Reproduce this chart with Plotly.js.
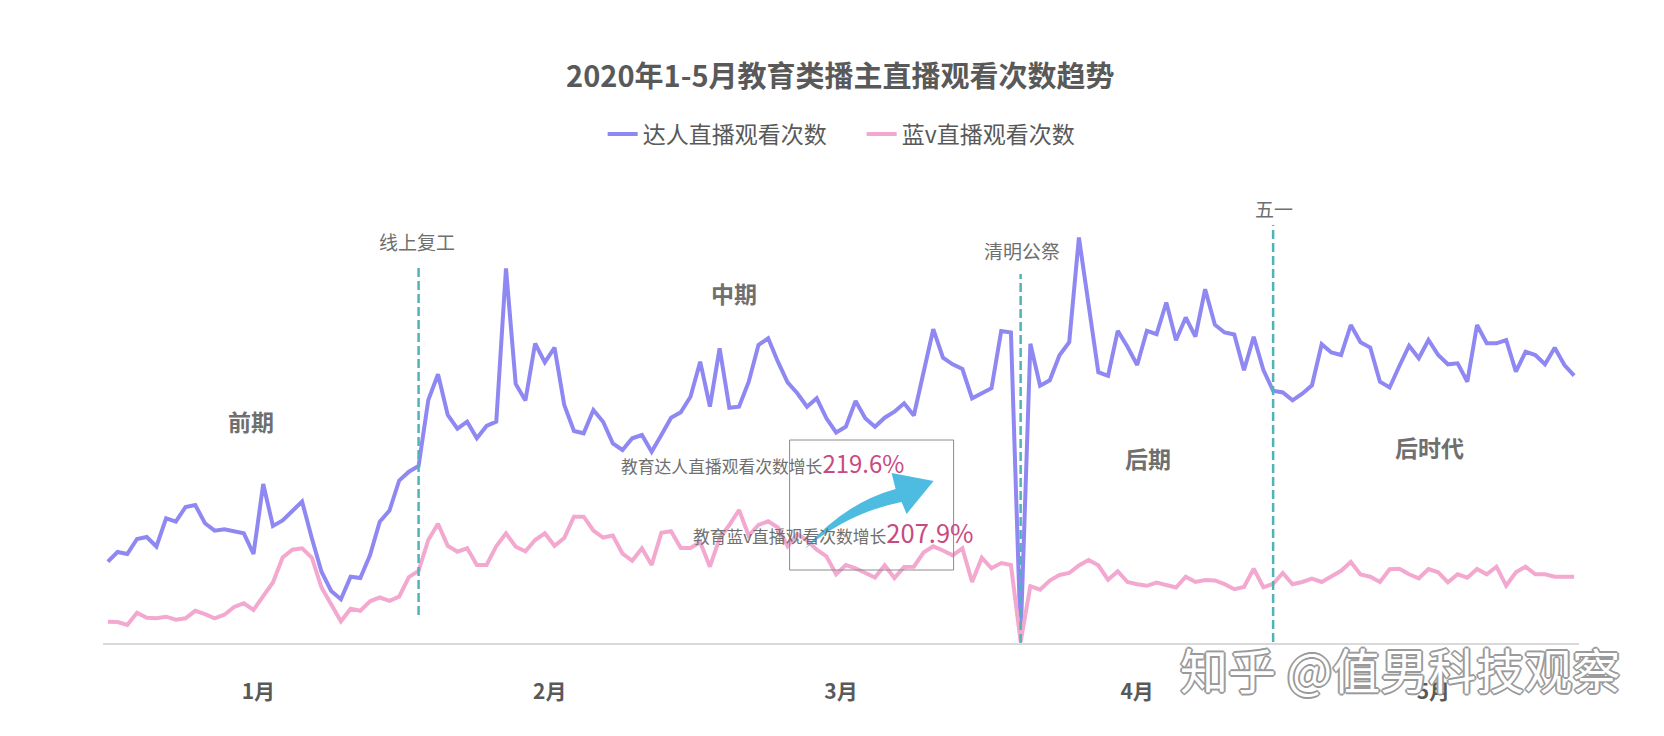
<!DOCTYPE html>
<html>
<head>
<meta charset="utf-8">
<script src="https://cdn.plot.ly/plotly-3.0.1.min.js"></script>
<style>html,body{margin:0;padding:0;background:#fff;}#chart{width:1664px;height:736px;}</style>
</head>
<body>
<div id="chart"></div>
<script>
// ---- data (arbitrary units, daily 2020-01-01 .. 2020-05-31) ----
const startYear = 2020, startMonth = 0, nDays = 152;
const seriesNames = ['达人直播观看次数', '蓝v直播观看次数'];
const darenViews = [
  81.3, 91, 89, 104, 106, 96.5, 124.7, 121.3, 136, 138,
  119.7, 112.3, 113.7, 112, 109.7, 89, 159, 117, 122.5, 132,
  141.5, 105, 71.3, 52, 43.7, 66.3, 65, 88, 121.3, 132.5,
  162.5, 171.3, 177, 243, 268.8, 228, 214.3, 221.3, 204.7, 217,
  221.3, 374.7, 259, 242.5, 299.5, 280.7, 295.3, 238, 212, 209.7,
  233, 221.3, 199.7, 193, 204.7, 208, 191.3, 208, 225.3, 230.7,
  246.3, 281.3, 236.3, 294.7, 235.3, 236.3, 261.3, 298, 304.7, 281.3,
  260.7, 249.7, 236.3, 244.7, 224.7, 210.5, 216.3, 242, 224.7, 216.3,
  225.3, 231.3, 239.7, 227.5, 271, 313.8, 285.3, 278.7, 274, 244.7,
  249.7, 254.7, 312, 310.5, 6, 299.3, 257.2, 262.7, 287.7, 300.8,
  405.5, 338, 270.8, 267.2, 312.2, 296.3, 278, 312.2, 308.8, 340.5,
  302.7, 325.5, 306.3, 353.8, 318.3, 310.5, 308.5, 272.7, 306.3, 273,
  252.2, 250.5, 242.7, 249.3, 257.7, 298.8, 290.5, 288, 318, 300.8,
  295.5, 261.3, 255.5, 277, 297.3, 284.7, 303, 288, 278.7, 279.7,
  261.3, 318, 299.7, 299.7, 303, 271.3, 291.3, 288, 278.7, 295.3,
  278, 267.3
];
const lanvViews = [
  21.3, 21, 18, 30.3, 25.2, 24.7, 26.3, 23.3, 24.7, 32.2,
  28.8, 24.7, 28.3, 36, 39.7, 33, 46.8, 60.5, 85.5, 93.3,
  94.7, 85.5, 55.5, 38, 21.7, 34.3, 32.2, 41.7, 45.5, 42.2,
  46.3, 65.8, 72.2, 103, 119.3, 97.2, 91.3, 94.7, 78, 78,
  96.8, 109.7, 96.3, 91.7, 103, 109.7, 97.2, 105, 126.3, 126.3,
  112.5, 105.5, 107.5, 89.3, 82.2, 94.7, 78, 110.2, 111.7, 95,
  95, 100.8, 76.3, 104.7, 118, 133, 107.2, 118, 121.7, 115.5,
  96.8, 108.8, 102.7, 93.3, 86.7, 68.8, 78, 74.7, 70.5, 65.5,
  77.7, 65, 76, 76.3, 90.5, 96.7, 92.5, 87.7, 94.7, 61,
  85.3, 74.7, 79.9, 78, 1.3, 56.8, 53.3, 62.5, 68, 70,
  77.5, 83, 77.7, 63.3, 71.8, 61, 58.8, 57.2, 60.5, 58,
  55.5, 66.3, 61, 63, 62.5, 58.8, 53.8, 56, 74.3, 55.7,
  59.2, 70, 58.8, 61, 64.3, 61, 66.3, 72.2, 81, 68.5,
  66.3, 61, 73.8, 74.3, 68.7, 64.7, 74, 70.7, 60.7, 68.7,
  65.3, 74, 68.7, 76.3, 57.3, 70.7, 76.3, 68.7, 68.7, 66.3,
  66.3, 66.3
];
const monthLabels = ['1月', '2月', '3月', '4月', '5月'];
const monthTickDates = ['2020-01-16 12:00', '2020-02-15 12:00', '2020-03-16 12:00', '2020-04-16 00:00', '2020-05-16 12:00'];
const eventDates = ['2020-02-02', '2020-04-04', '2020-04-30'];
const eventLabels = ['线上复工', '清明公祭', '五一'];
const phaseLabels = ['前期', '中期', '后期', '后时代'];
const growthLabels = ['教育达人直播观看次数增长', '教育蓝v直播观看次数增长'];
const growthValues = ['219.6%', '207.9%'];

// ---- build dates ----
const dates = [];
for (let i = 0; i < nDays; i++) {
  const d = new Date(Date.UTC(startYear, startMonth, 1 + i));
  dates.push(d.toISOString().slice(0, 10));
}

// ---- layout geometry (pixels) ----
const L = 103.4, R = 1579.4, T = 193, B = 643;
const W = R - L, H = B - T;
const X = px => (px - L) / W;
const Y = py => (B - py) / H;
const P = (px, py) => X(px).toFixed(5) + ',' + Y(py).toFixed(5);

const FONT = '"Noto Sans CJK SC", "Noto Sans", sans-serif';
const purple = '#8F88F2', pink = '#F3A8CF', teal = '#4FB3B8';

const traces = [
  { x: dates, y: darenViews, name: seriesNames[0], type: 'scatter', mode: 'lines',
    line: { color: purple, width: 4 } },
  { x: dates, y: lanvViews, name: seriesNames[1], type: 'scatter', mode: 'lines',
    line: { color: pink, width: 4 } }
];

const eventTops = [376, 369, 418];
const eventBottoms = [28, 0, 1];
const eventLabelPos = [[417, 241], [1022, 250], [1274, 208]];
const phasePos = [[251, 421], [734, 293], [1148, 458], [1430, 447]];

const shapes = [];
const annotations = [];
eventDates.forEach((d, k) => {
  shapes.push({ type: 'line', xref: 'x', yref: 'y', x0: d, x1: d, y0: eventBottoms[k], y1: eventTops[k],
    line: { color: teal, width: 2.5, dash: '9px,4px' } });
  annotations.push({ xref: 'paper', yref: 'paper', x: X(eventLabelPos[k][0]), y: Y(eventLabelPos[k][1]),
    text: eventLabels[k], showarrow: false, xanchor: 'center', yanchor: 'middle',
    font: { family: FONT, size: 19, color: '#6f6f6f' } });
});
phaseLabels.forEach((t, k) => {
  annotations.push({ xref: 'paper', yref: 'paper', x: X(phasePos[k][0]), y: Y(phasePos[k][1]),
    text: t, showarrow: false, xanchor: 'center', yanchor: 'middle',
    font: { family: FONT, size: 23, color: '#6f6f6f', weight: 'bold' } });
});
// growth box + arrow
shapes.push({ type: 'rect', xref: 'paper', yref: 'paper', x0: X(790), x1: X(954), y0: Y(570), y1: Y(440),
  line: { color: '#8c8c8c', width: 1 }, fillcolor: 'rgba(0,0,0,0)' });
shapes.push({ type: 'path', xref: 'paper', yref: 'paper',
  path: `M ${P(805,549)} Q ${P(845,503)} ${P(896,489)} L ${P(892,473)} L ${P(934,481)} L ${P(907,514)} L ${P(902,502)} Q ${P(850,512)} ${P(805,549)} Z`,
  fillcolor: '#4DBCE0', line: { width: 0 } });
const growthPos = [[619, 462], [691, 531]];
const growthValueSizes = [24, 25.5];
growthLabels.forEach((t, k) => {
  annotations.push({ xref: 'paper', yref: 'paper', x: X(growthPos[k][0]), y: Y(growthPos[k][1]),
    text: t + '<span style="font-size:' + growthValueSizes[k] + 'px;color:#C94A80">' + growthValues[k] + '</span>',
    showarrow: false, xanchor: 'left', yanchor: 'middle',
    font: { family: FONT, size: 16.8, color: '#6f6f6f' } });
});
// watermark
annotations.push({ xref: 'paper', yref: 'paper', x: X(1400), y: Y(668), text: '知乎 @值男科技观察',
  showarrow: false, xanchor: 'center', yanchor: 'middle',
  font: { family: FONT, size: 48, color: '#ffffff',
    shadow: '1px 1px 0 #9a9a9a, -1px -1px 0 #9a9a9a, 1px -1px 0 #9a9a9a, -1px 1px 0 #9a9a9a, 2px 0 0 #9a9a9a, -2px 0 0 #9a9a9a, 0 2px 0 #9a9a9a, 0 -2px 0 #9a9a9a' } });

const layout = {
  width: 1664, height: 736,
  paper_bgcolor: '#ffffff', plot_bgcolor: '#ffffff',
  margin: { l: L, r: 1664 - R, t: T, b: 736 - B, autoexpand: false },
  title: { text: '2020年1-5月教育类播主直播观看次数趋势', x: 0.505, xref: 'container', xanchor: 'center',
    y: 1 - 77 / 736, yref: 'container', yanchor: 'middle',
    font: { family: FONT, size: 29, color: '#595959', weight: 'bold' } },
  showlegend: true,
  legend: { orientation: 'h', x: 0.514, xanchor: 'center', y: Y(134), yanchor: 'middle',
    entrywidth: 214, entrywidthmode: 'pixels',
    font: { family: FONT, size: 23, color: '#595959' }, bgcolor: 'rgba(0,0,0,0)' },
  xaxis: { type: 'date', range: ['2019-12-31 12:00', '2020-05-31 12:00'],
    showgrid: false, zeroline: false, showline: true, linecolor: '#d9d9d9', linewidth: 1.5,
    ticks: '', tickvals: monthTickDates, ticktext: monthLabels, ticklabelstandoff: 29,
    tickfont: { family: FONT, size: 21, color: '#595959', weight: 'bold' }, fixedrange: true },
  yaxis: { range: [0, 450], visible: false, showgrid: false, zeroline: false, fixedrange: true },
  shapes: shapes, annotations: annotations,
  hovermode: false
};

Plotly.newPlot('chart', traces, layout, { displayModeBar: false, staticPlot: true });
</script>
</body>
</html>
